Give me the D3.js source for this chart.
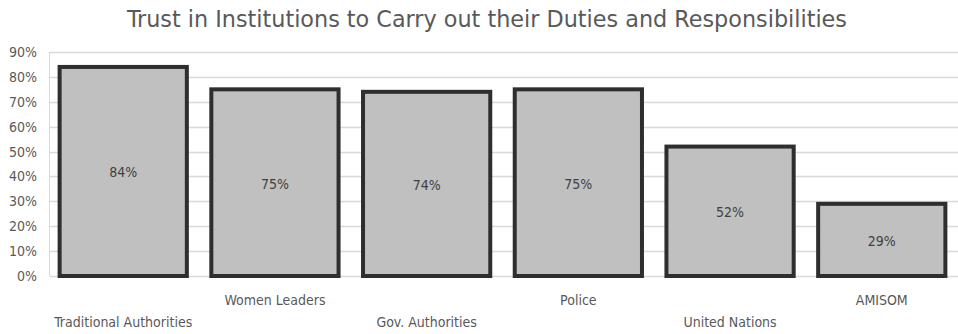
<!DOCTYPE html>
<html>
<head>
<meta charset="utf-8">
<script src="https://cdn.jsdelivr.net/npm/d3@7"></script>
<style>
body { margin: 0; background: #fff; }
text { font-family: "Liberation Sans Narrow", "DejaVu Sans Condensed", "Open Sans", sans-serif; }
</style>
</head>
<body>
<div id="chart"></div>
<script>
var categories = ["Traditional Authorities", "Women Leaders", "Gov. Authorities", "Police", "United Nations", "AMISOM"];
var values = [0.84, 0.75, 0.74, 0.75, 0.52, 0.29];
var tickValues = [0, 0.1, 0.2, 0.3, 0.4, 0.5, 0.6, 0.7, 0.8, 0.9];
var title = "Trust in Institutions to Carry out their Duties and Responsibilities";

var width = 958, height = 334;
var svg = d3.select("#chart").append("svg")
    .attr("width", width)
    .attr("height", height);

var x = d3.scaleBand()
    .domain(categories)
    .range([47, 958])
    .paddingInner(0.135)
    .paddingOuter(0.07);

var y = d3.scaleLinear()
    .domain([0, 0.9])
    .range([276, 52]);

// gridlines
svg.append("g")
    .selectAll("line")
    .data(tickValues)
    .enter()
    .append("line")
    .attr("x1", 50)
    .attr("x2", 958)
    .attr("y1", function(d) { return Math.round(y(d)) + 0.5; })
    .attr("y2", function(d) { return Math.round(y(d)) + 0.5; })
    .style("stroke", "#d9d9d9")
    .style("stroke-width", 1.5);

svg.append("line")
    .attr("x1", 49.5).attr("x2", 49.5)
    .attr("y1", y(0.9)).attr("y2", y(0))
    .style("stroke", "#d9d9d9");

// y axis labels
var yAxis = d3.axisLeft(y)
    .tickValues(tickValues)
    .tickFormat(d3.format(".0%"))
    .tickSize(0)
    .tickPadding(0);

svg.append("g")
    .attr("transform", "translate(37,0)")
    .call(yAxis)
    .call(function(g) { g.select(".domain").remove(); })
    .selectAll("text")
    .style("font-size", "14px")
    .style("fill", "#595959");

// bars
svg.append("g")
    .selectAll("rect")
    .data(values)
    .enter()
    .append("rect")
    .attr("x", function(d, i) { return x(categories[i]) + 2; })
    .attr("width", x.bandwidth() - 4)
    .attr("y", function(d) { return y(d); })
    .attr("height", function(d) { return y(0) - y(d); })
    .style("fill", "#c0c0c0")
    .style("stroke", "#2e2e2e")
    .style("stroke-width", 4);

// value labels
svg.append("g")
    .selectAll("text")
    .data(values)
    .enter()
    .append("text")
    .attr("x", function(d, i) { return x(categories[i]) + x.bandwidth() / 2; })
    .attr("y", function(d) { return (y(d) + y(0)) / 2 + 6; })
    .attr("text-anchor", "middle")
    .style("font-size", "14px")
    .style("fill", "#404040")
    .text(function(d) { return Math.round(d * 100) + "%"; });

// category labels, staggered
svg.append("g")
    .selectAll("text")
    .data(categories)
    .enter()
    .append("text")
    .attr("x", function(d) { return x(d) + x.bandwidth() / 2; })
    .attr("y", function(d, i) { return i % 2 == 0 ? 327 : 305; })
    .attr("text-anchor", "middle")
    .style("font-size", "14px")
    .style("fill", "#595959")
    .text(function(d) { return d; });

// title
svg.append("text")
    .attr("x", 487)
    .attr("y", 27)
    .attr("text-anchor", "middle")
    .attr("textLength", 720)
    .attr("lengthAdjust", "spacingAndGlyphs")
    .style("font-size", "23px")
    .style("fill", "#595959")
    .text(title);
</script>
</body>
</html>
